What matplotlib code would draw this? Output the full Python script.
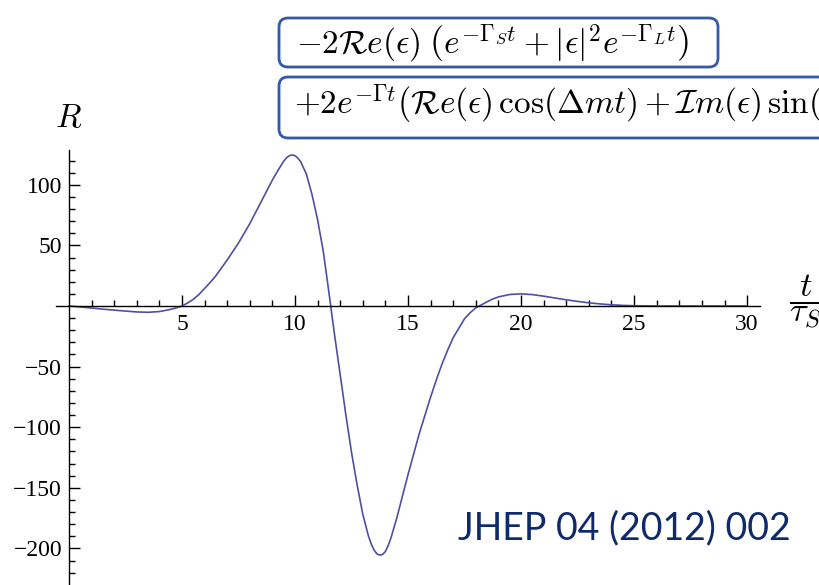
import matplotlib
matplotlib.use("Agg")
import matplotlib.pyplot as plt
from matplotlib.patches import FancyBboxPatch
from matplotlib.transforms import IdentityTransform

# Asymmetry R versus proper time t / tau_S
t_values = [0, 0.5, 1, 1.5, 2, 2.5, 3, 3.5, 4, 4.5, 4.75, 5, 5.25, 5.5, 5.75,
            6, 6.25, 6.5, 6.75, 7, 7.25, 7.5, 7.75, 8, 8.25, 8.5, 8.75, 9,
            9.25, 9.5, 9.625, 9.75, 9.875, 10, 10.125, 10.25, 10.5, 10.75, 11,
            11.25, 11.5, 11.75, 12, 12.25, 12.5, 12.75, 13, 13.25, 13.375,
            13.5, 13.625, 13.75, 13.875, 14, 14.125, 14.25, 14.5, 14.75, 15,
            15.25, 15.5, 15.75, 16, 16.25, 16.5, 16.75, 17, 17.5, 17.75, 18,
            18.25, 18.5, 18.75, 19, 19.5, 20, 20.5, 21, 21.5, 22, 22.5, 23,
            23.5, 24, 24.5, 25, 26, 27, 28, 29, 30]
r_values = [0, -0.8, -1.7, -2.6, -3.4, -4.2, -4.9, -5.2, -4.6, -2.8, -1.5, 0,
            2.5, 5.5, 9.5, 14.5, 19.5, 25, 31.5, 38, 45, 52, 60, 68, 77, 86,
            95, 104, 112, 119.5, 122.3, 124, 124.6, 124, 122, 119, 109, 92,
            71, 45, 11, -24, -57, -90, -121, -148, -172, -190, -196.5, -201.5,
            -204.5, -205.6, -205, -202.5, -197.5, -191, -175, -157, -139,
            -122, -105, -90, -75, -61, -48, -36.5, -26, -10.5, -5.5, -1.5, 1,
            3.5, 5.8, 7.5, 9.5, 10, 9.4, 8.1, 6.6, 5.1, 3.8, 2.6, 1.7, 1.0,
            0.5, 0.2, 0, 0, 0, 0, 0]

x_major = [5, 10, 15, 20, 25, 30]
x_minor = [v for v in range(1, 31) if v % 5]
y_major = [-200, -150, -100, -50, 50, 100]
y_minor = [v for v in range(-220, 130, 10) if v % 50]

formula_top = r"$-2\mathcal{R}e(\epsilon)\;\left(e^{-\Gamma_S t}+|\epsilon|^2 e^{-\Gamma_L t}\right)$"
formula_bottom = (r"$+2e^{-\Gamma t}\left(\mathcal{R}e(\epsilon)\,\cos(\Delta m t)"
                  r"+\mathcal{I}m(\epsilon)\,\sin(\Delta m t)\right)$")
reference = "JHEP 04 (2012) 002"

plt.rcParams["mathtext.fontset"] = "cm"

W, H = 819, 585
fig = plt.figure(figsize=(W / 100, H / 100), dpi=100)
fig.patch.set_facecolor("white")

ax = fig.add_axes([56 / W, 0, 704 / W, 435 / H])
ax.set_facecolor("none")
ax.set_xlim(-0.575, 30.57)
ax.set_ylim(-230.2, 128.7)

ax.plot(t_values, r_values, color="#4f4fa0", lw=1.2, solid_capstyle="round",
        solid_joinstyle="round")

for side in ("top", "right"):
    ax.spines[side].set_visible(False)
for side in ("left", "bottom"):
    ax.spines[side].set_position(("data", 0))
    ax.spines[side].set_linewidth(1.0)
    ax.spines[side].set_color("black")

ax.set_xticks(x_major)
ax.set_xticklabels([str(v) for v in x_major])
ax.set_xticks(x_minor, minor=True)
ax.set_yticks(y_major)
ax.set_yticklabels([str(v).replace("-", "\u2212") for v in y_major])
ax.set_yticks(y_minor, minor=True)

ax.tick_params(axis="both", which="major", direction="in", length=8, width=1.0,
               labelsize=17, colors="black")
ax.tick_params(axis="both", which="minor", direction="in", length=4, width=1.0)
ax.tick_params(axis="x", which="major", pad=6)
ax.tick_params(axis="y", which="major", pad=5)
for lbl in ax.get_xticklabels() + ax.get_yticklabels():
    lbl.set_fontfamily("Liberation Serif")

# axis labels
fig.text(69 / W, 1 - 117 / H, r"$R$", fontsize=24, ha="center", va="center")
fig.text(806 / W, 1 - 302 / H, r"$\dfrac{t}{\tau_S}$", fontsize=25,
         ha="center", va="center")

# formula boxes
box_color = "#3459a8"
for (x0, ytop, x1, ybot) in [(279, 18, 718, 67), (279, 77, 890, 138)]:
    fig.add_artist(FancyBboxPatch((x0, H - ybot), x1 - x0, ybot - ytop,
                                  boxstyle="round,pad=0,rounding_size=9",
                                  transform=IdentityTransform(),
                                  facecolor="white", edgecolor=box_color,
                                  lw=2.0, zorder=5))

fig.text(296 / W, 1 - 44 / H, formula_top, fontsize=24, ha="left",
         va="center", zorder=6)
fig.text(294 / W, 1 - 104 / H, formula_bottom, fontsize=24, ha="left",
         va="center", zorder=6)

fig.text(458 / W, 1 - 528 / H, reference, fontsize=27, color="#0f2a6b",
         family="Lato", ha="left", va="center")

fig.savefig("out.png", dpi=100)
